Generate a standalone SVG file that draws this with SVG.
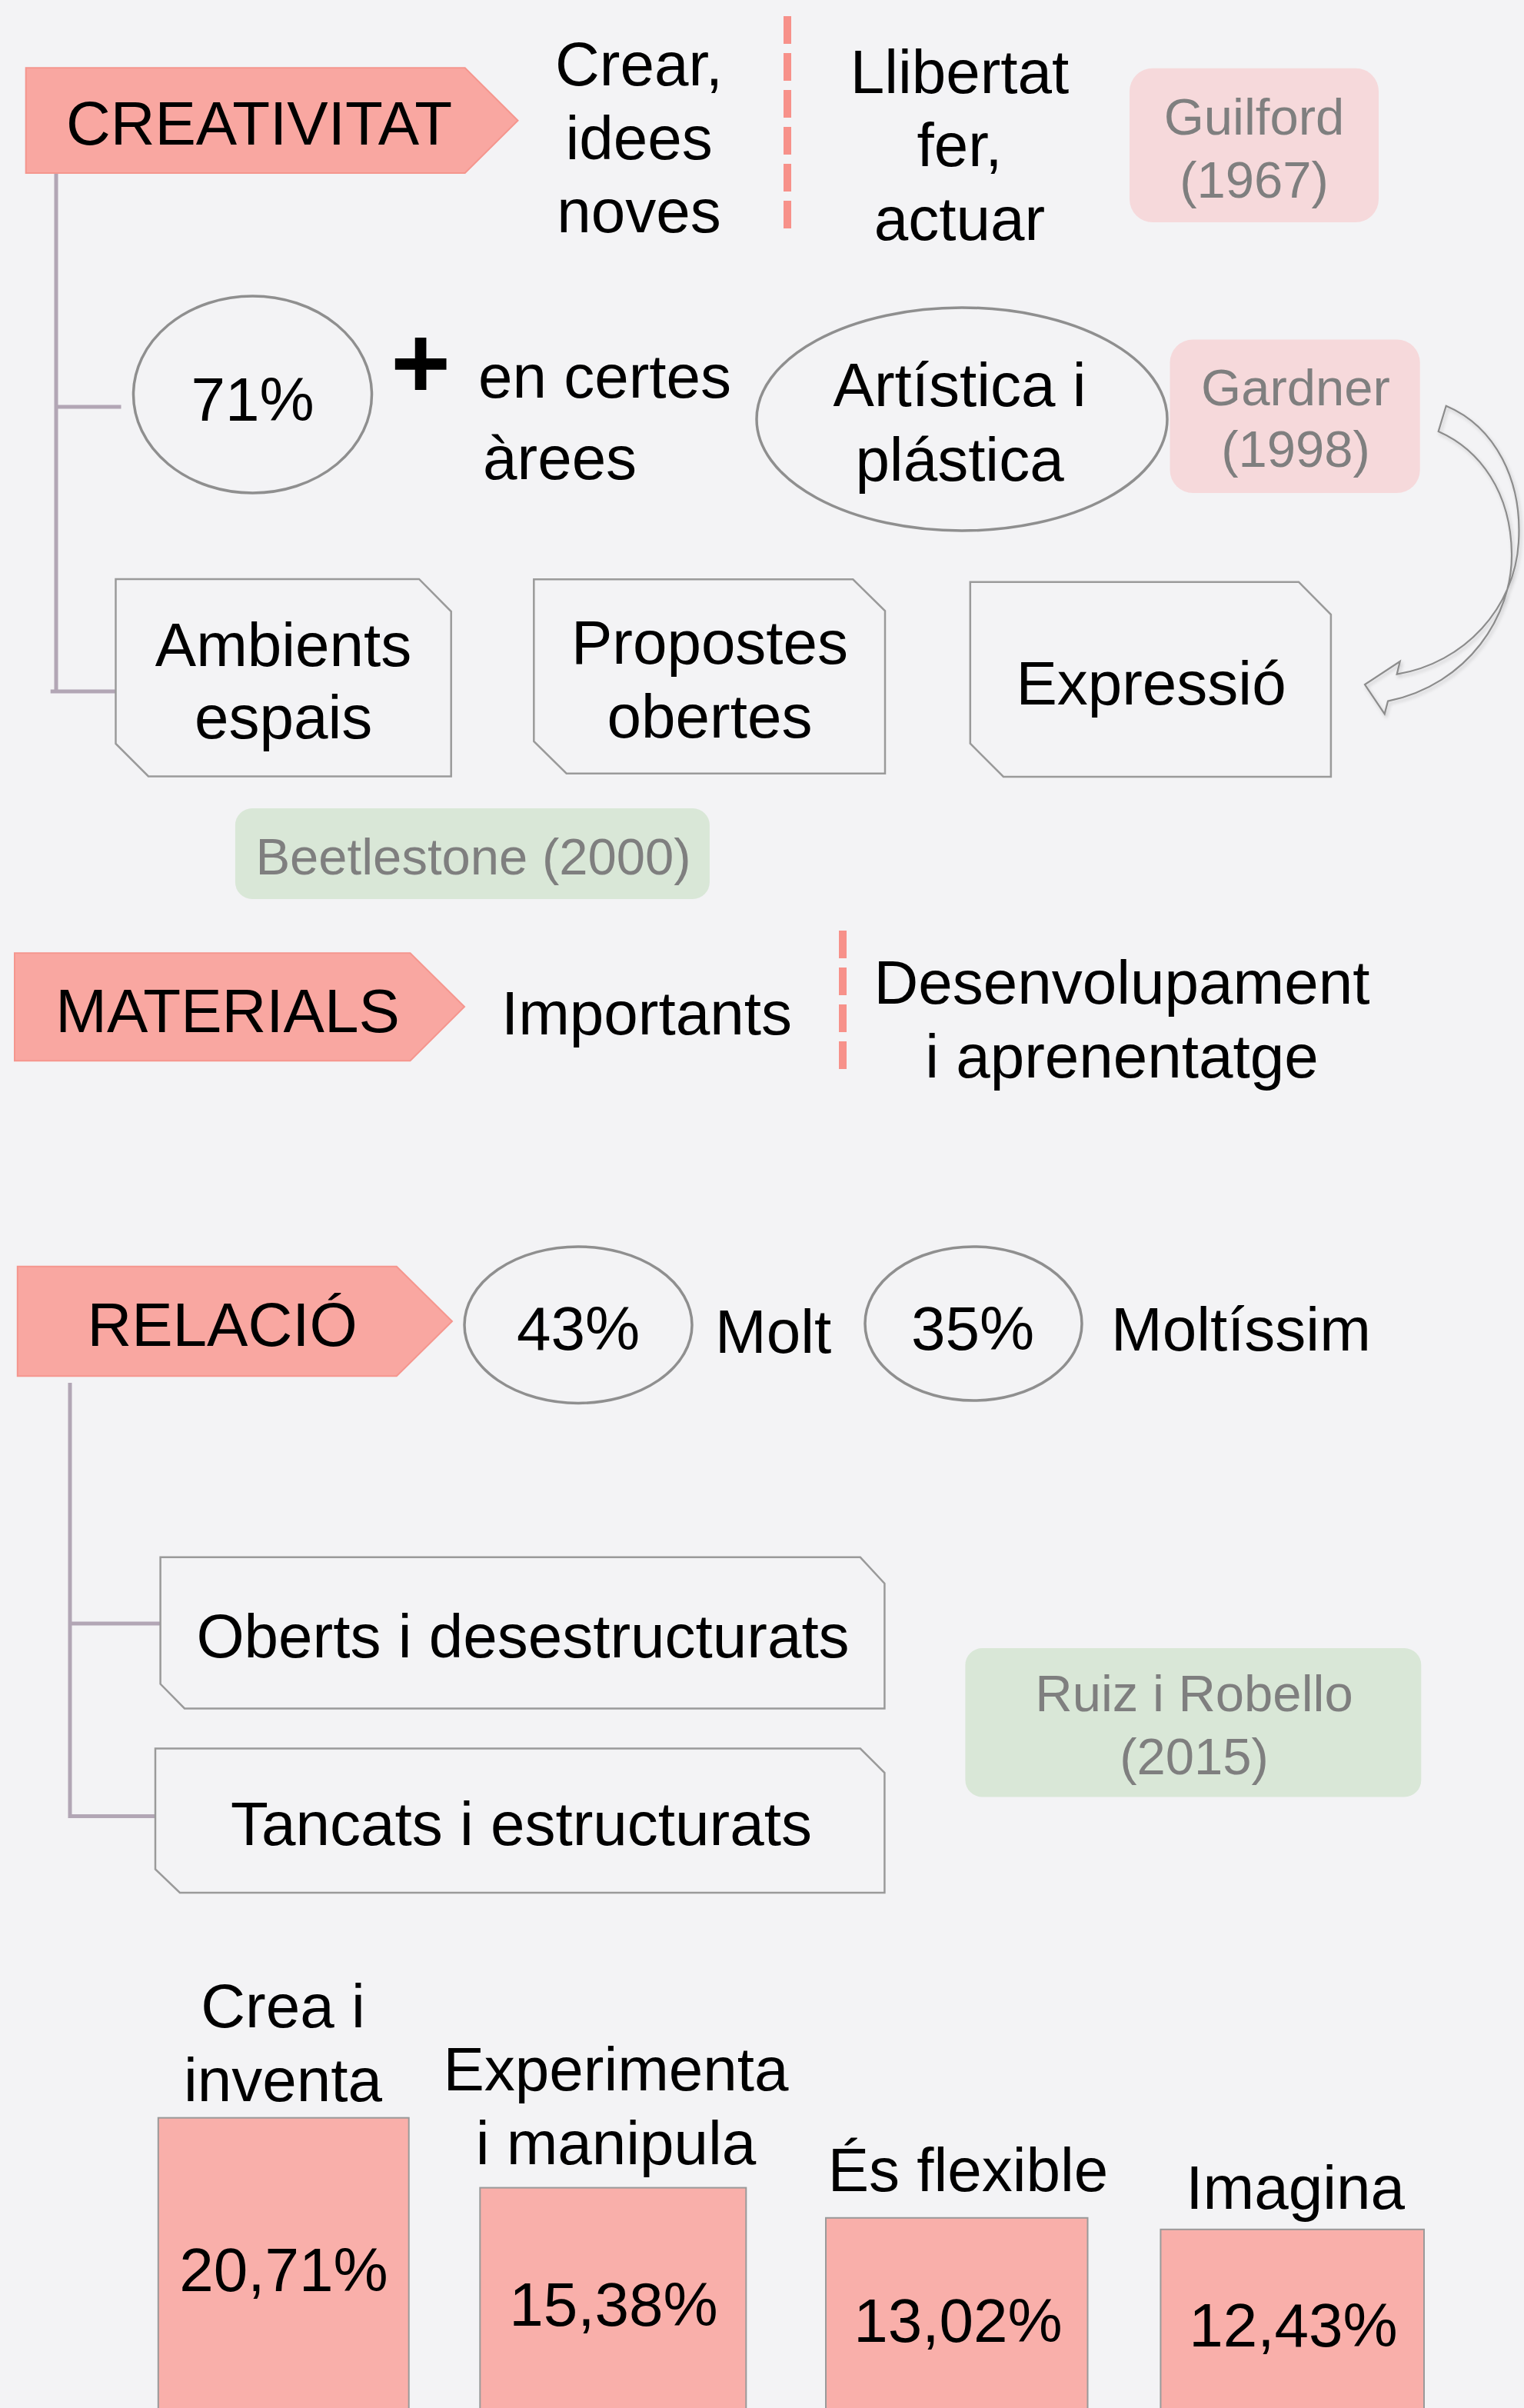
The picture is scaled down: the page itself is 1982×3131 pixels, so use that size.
<svg xmlns="http://www.w3.org/2000/svg" width="1982" height="3131" viewBox="0 0 1982 3131">
<defs>
<style>
text{font-family:"Liberation Sans",Arial,sans-serif;}
.t{font-size:80px;fill:#000;}
.c{text-anchor:middle;}
.ref{font-size:67px;fill:#7f7f7f;text-anchor:middle;}
.head{fill:#f9a7a1;stroke:#f5968e;stroke-width:2;}
.snip{fill:#f3f3f5;stroke:#9a9a9a;stroke-width:2.5;}
.ell{fill:none;stroke:#8f8f8f;stroke-width:3.5;}
.pink{fill:#f6d9db;}
.green{fill:#d9e7d7;}
.bar{fill:#f9afaa;stroke:#9a9a9a;stroke-width:2;}
.conn{stroke:#b2a6b5;stroke-width:5;fill:none;}
.dash{stroke:#f7918a;stroke-width:10;stroke-dasharray:36 12;fill:none;}
</style>
<filter id="sh" x="-20%" y="-20%" width="140%" height="140%">
<feDropShadow dx="2" dy="3" stdDeviation="2" flood-color="#000" flood-opacity="0.18"/>
</filter>
</defs>
<rect x="0" y="0" width="1982" height="3131" fill="#f3f3f5"/>

<g id="connectors">
<path class="conn" d="M73,225 V899 M73,529 H157.5 M65.7,899 H150.5"/>
<path class="conn" d="M91,1798 V2364 M91,2111 H208.6 M88.5,2361.4 H202"/>
<line class="dash" x1="1024" y1="21" x2="1024" y2="297"/>
<line class="dash" x1="1096" y1="1210" x2="1096" y2="1391"/>
<path id="curved-arrow" filter="url(#sh)" fill="none" stroke="#8c8c8c" stroke-width="2.2" stroke-linejoin="miter" d="M1880.7,527.7 C1945,555 1980,625 1975,705 C1970,790 1905,862 1816.7,876.7 L1820.7,860 L1775,890 L1800.7,928.3 L1805,911.7 C1910,890 1967,800 1966,720 C1965,640 1925,585 1870.7,561 Z"/>
</g>

<g id="creativitat">
<path class="head" d="M33.7,88.3 H604.7 L673.5,156.7 L604.7,225 H33.7 Z"/>
<text class="t c" x="337" y="188">CREATIVITAT</text>
</g>
<g id="crear">
<text class="t c" x="831" y="111">Crear,</text>
<text class="t c" x="831" y="207">idees</text>
<text class="t c" x="831" y="302">noves</text>
</g>
<g id="llibertat">
<text class="t c" x="1248" y="121">Llibertat</text>
<text class="t c" x="1248" y="216">fer,</text>
<text class="t c" x="1248" y="312">actuar</text>
</g>
<g id="guilford">
<rect class="pink" x="1469" y="88.7" width="324" height="200.3" rx="30" ry="30"/>
<text class="ref" x="1631" y="175">Guilford</text>
<text class="ref" x="1631" y="257">(1967)</text>
</g>
<g id="pct71">
<ellipse class="ell" cx="328.5" cy="513" rx="155" ry="128"/>
<text class="t c" x="328.5" y="546.6">71%</text>
</g>
<g id="plus">
<text x="547" y="518" font-size="133" font-weight="bold" text-anchor="middle" fill="#000">+</text>
</g>
<g id="certes">
<text class="t" x="622" y="517">en certes</text>
<text class="t" x="628" y="623">àrees</text>
</g>
<g id="artistica">
<ellipse class="ell" cx="1251" cy="545" rx="267" ry="145"/>
<text class="t c" x="1248" y="528">Artística i</text>
<text class="t c" x="1248" y="624.5">plástica</text>
</g>
<g id="gardner">
<rect class="pink" x="1521.5" y="441.5" width="325.2" height="199.5" rx="30" ry="30"/>
<text class="ref" x="1685" y="527">Gardner</text>
<text class="ref" x="1685" y="607">(1998)</text>
</g>
<g id="ambients">
<path class="snip" d="M150.5,752.9 H545 L586.7,795 V1009.5 H193 L150.5,967 Z"/>
<text class="t c" x="368.6" y="866">Ambients</text>
<text class="t c" x="368.6" y="960.4">espais</text>
</g>
<g id="propostes">
<path class="snip" d="M694.3,753.3 H1109.3 L1151,794.3 V1005.7 H736.7 L694.3,964 Z"/>
<text class="t c" x="923" y="863.3">Propostes</text>
<text class="t c" x="923" y="959">obertes</text>
</g>
<g id="expressio">
<path class="snip" d="M1261.8,756.7 H1689 L1730.9,799 V1010 H1305 L1261.8,966.7 Z"/>
<text class="t c" x="1497" y="916">Expressió</text>
</g>
<g id="beetlestone">
<rect class="green" x="305.9" y="1051" width="617" height="118" rx="22" ry="22"/>
<text class="ref" x="615.5" y="1136.7">Beetlestone (2000)</text>
</g>

<g id="materials">
<path class="head" d="M19,1239.3 H533.5 L604,1309 L533.5,1379.3 H19 Z"/>
<text class="t c" x="296" y="1341.7">MATERIALS</text>
</g>
<g id="importants">
<text class="t" x="652" y="1345">Importants</text>
</g>
<g id="desenvolupament">
<text class="t c" x="1459" y="1305">Desenvolupament</text>
<text class="t c" x="1459" y="1401">i aprenentatge</text>
</g>

<g id="relacio">
<path class="head" d="M22.8,1646.7 H515.8 L588,1718 L515.8,1789.3 H22.8 Z"/>
<text class="t c" x="289" y="1750">RELACIÓ</text>
</g>
<g id="pct43">
<ellipse class="ell" cx="752" cy="1722.7" rx="148" ry="101.7"/>
<text class="t c" x="752" y="1755">43%</text>
</g>
<g id="molt">
<text class="t" x="930" y="1759">Molt</text>
</g>
<g id="pct35">
<ellipse class="ell" cx="1266" cy="1721" rx="141" ry="100"/>
<text class="t c" x="1265" y="1755">35%</text>
</g>
<g id="moltissim">
<text class="t" x="1445" y="1756">Moltíssim</text>
</g>
<g id="oberts">
<path class="snip" d="M208.6,2024.8 H1118.8 L1150.4,2059 V2221.5 H240 L208.6,2189.6 Z"/>
<text class="t c" x="680" y="2155">Oberts i desestructurats</text>
</g>
<g id="tancats">
<path class="snip" d="M202,2273.5 H1118.8 L1150.4,2305 V2461 H233.9 L202,2430.4 Z"/>
<text class="t c" x="678" y="2398.6">Tancats i estructurats</text>
</g>
<g id="ruiz">
<rect class="green" x="1255.4" y="2143" width="592.9" height="193.5" rx="22" ry="22"/>
<text class="ref" x="1553" y="2225.4">Ruiz i Robello</text>
<text class="ref" x="1553" y="2306.7">(2015)</text>
</g>

<g id="bar1">
<rect class="bar" x="205.8" y="2753.7" width="325.9" height="400"/>
<text class="t c" x="368" y="2636">Crea i</text>
<text class="t c" x="368" y="2732">inventa</text>
<text class="t c" x="369" y="2979">20,71%</text>
</g>
<g id="bar2">
<rect class="bar" x="624.3" y="2844.6" width="346" height="320"/>
<text class="t c" x="801" y="2718">Experimenta</text>
<text class="t c" x="801" y="2814.4">i manipula</text>
<text class="t c" x="798" y="3024.4">15,38%</text>
</g>
<g id="bar3">
<rect class="bar" x="1074" y="2883.8" width="340.5" height="300"/>
<text class="t c" x="1259" y="2849">És flexible</text>
<text class="t c" x="1246" y="3045">13,02%</text>
</g>
<g id="bar4">
<rect class="bar" x="1509.4" y="2898.8" width="342.6" height="300"/>
<text class="t c" x="1684.6" y="2871.7">Imagina</text>
<text class="t c" x="1682" y="3050.7">12,43%</text>
</g>
</svg>
